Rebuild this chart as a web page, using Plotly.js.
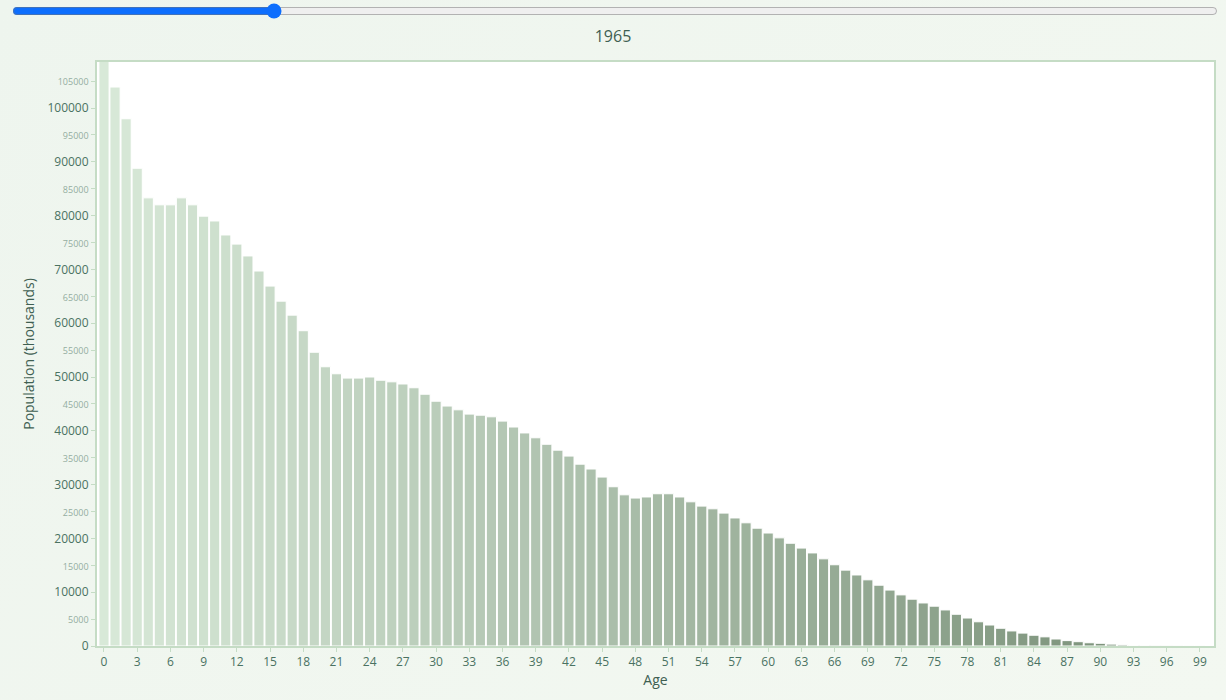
<!DOCTYPE html>
<html>
<head>
<meta charset="utf-8">
<script src="https://cdn.plot.ly/plotly-3.0.1.min.js"></script>
<style>
  body { margin: 0; background: linear-gradient(135deg, #eef5ee, #f3f8f1); font-family: "Open Sans", sans-serif; }
  #wrap { position: relative; width: 1226px; height: 700px; }
  #year { position: absolute; left: 10px; top: 1px; width: 1206px; accent-color: #0d6efd; z-index: 2; }
  #chart { position: absolute; left: 0; top: 0; }
</style>
</head>
<body>
<div id="wrap">
  <input id="year" type="range" min="1950" max="2100" value="1982">
  <div id="chart"></div>
</div>
<script>
var year = '1965';

var ages = [];
for (var i = 0; i < 100; i++) ages.push(i);

var population = [
  115000, 103900, 98000, 88800, 83300, 82000, 82000, 83300, 82000, 79900,
  79000, 76400, 74700, 72500, 69700, 66900, 64100, 61500, 58600, 54600,
  51900, 50600, 49800, 49800, 50000, 49400, 49100, 48700, 48000, 46800,
  45500, 44600, 43900, 43100, 42900, 42600, 41800, 40700, 39600, 38700,
  37500, 36400, 35300, 33800, 32900, 31400, 29600, 28100, 27500, 27700,
  28300, 28300, 27700, 26800, 26000, 25500, 24700, 23800, 22900, 21900,
  21000, 20100, 19100, 18200, 17300, 16200, 15100, 14100, 13200, 12300,
  11300, 10400, 9500, 8700, 8000, 7400, 6700, 5900, 5200, 4500,
  3900, 3300, 2800, 2400, 2000, 1700, 1300, 1000, 800, 600,
  500, 350, 200, 100, 80, 50, 30, 20, 10, 10
];

var yTicks = [];
var yLabels = [];
for (var v = 0; v <= 105000; v += 5000) {
  yTicks.push(v);
  yLabels.push(v % 10000 === 0 ? String(v)
    : '<span style="font-size:9px;fill:#93ad9f">' + v + '</span>');
}

var xTicks = [];
for (var a = 0; a <= 99; a += 3) xTicks.push(a);

// colour ramp from light to dark green along age
function mix(c1, c2, t) {
  var r = Math.round(c1[0] + (c2[0] - c1[0]) * t);
  var g = Math.round(c1[1] + (c2[1] - c1[1]) * t);
  var b = Math.round(c1[2] + (c2[2] - c1[2]) * t);
  return 'rgb(' + r + ',' + g + ',' + b + ')';
}
var colors = ages.map(function (x) { return mix([216, 233, 216], [117, 140, 116], x / 99); });

var trace = {
  x: ages,
  y: population,
  type: 'bar',
  marker: { color: colors, line: { color: '#ffffff', width: 1 } },
  hoverinfo: 'x+y'
};

var layout = {
  width: 1226,
  height: 700,
  paper_bgcolor: 'rgba(0,0,0,0)',
  plot_bgcolor: '#ffffff',
  margin: { l: 97, r: 12, t: 62, b: 54 },
  font: { family: 'Open Sans, sans-serif', color: '#4a7262', size: 12 },
  title: { text: year, x: 0.5, xanchor: 'center', y: 0.948, yanchor: 'middle', yref: 'container',
           font: { size: 16, color: '#3f5f52' } },
  bargap: 0.08,
  showlegend: false,
  xaxis: {
    range: [-0.63, 100.27],
    tickvals: xTicks,
    ticks: 'outside', ticklen: 4, tickcolor: '#c5dcc5',
    tickfont: { size: 12, color: '#4a7262' },
    showgrid: false, zeroline: false,
    showline: true, linecolor: '#c5dcc5', linewidth: 2, mirror: true,
    title: { text: 'Age', standoff: 4, font: { size: 14, color: '#3f5f52' } }
  },
  yaxis: {
    range: [0, 108550],
    tickvals: yTicks,
    ticktext: yLabels,
    ticks: 'outside', ticklen: 4, tickcolor: '#c5dcc5',
    tickfont: { size: 12, color: '#4a7262' },
    showgrid: false, zeroline: false,
    showline: true, linecolor: '#c5dcc5', linewidth: 2, mirror: true,
    title: { text: 'Population (thousands)', standoff: 10, font: { size: 14, color: '#3f5f52' } }
  }
};

Plotly.newPlot('chart', [trace], layout, { displayModeBar: false });
</script>
</body>
</html>
